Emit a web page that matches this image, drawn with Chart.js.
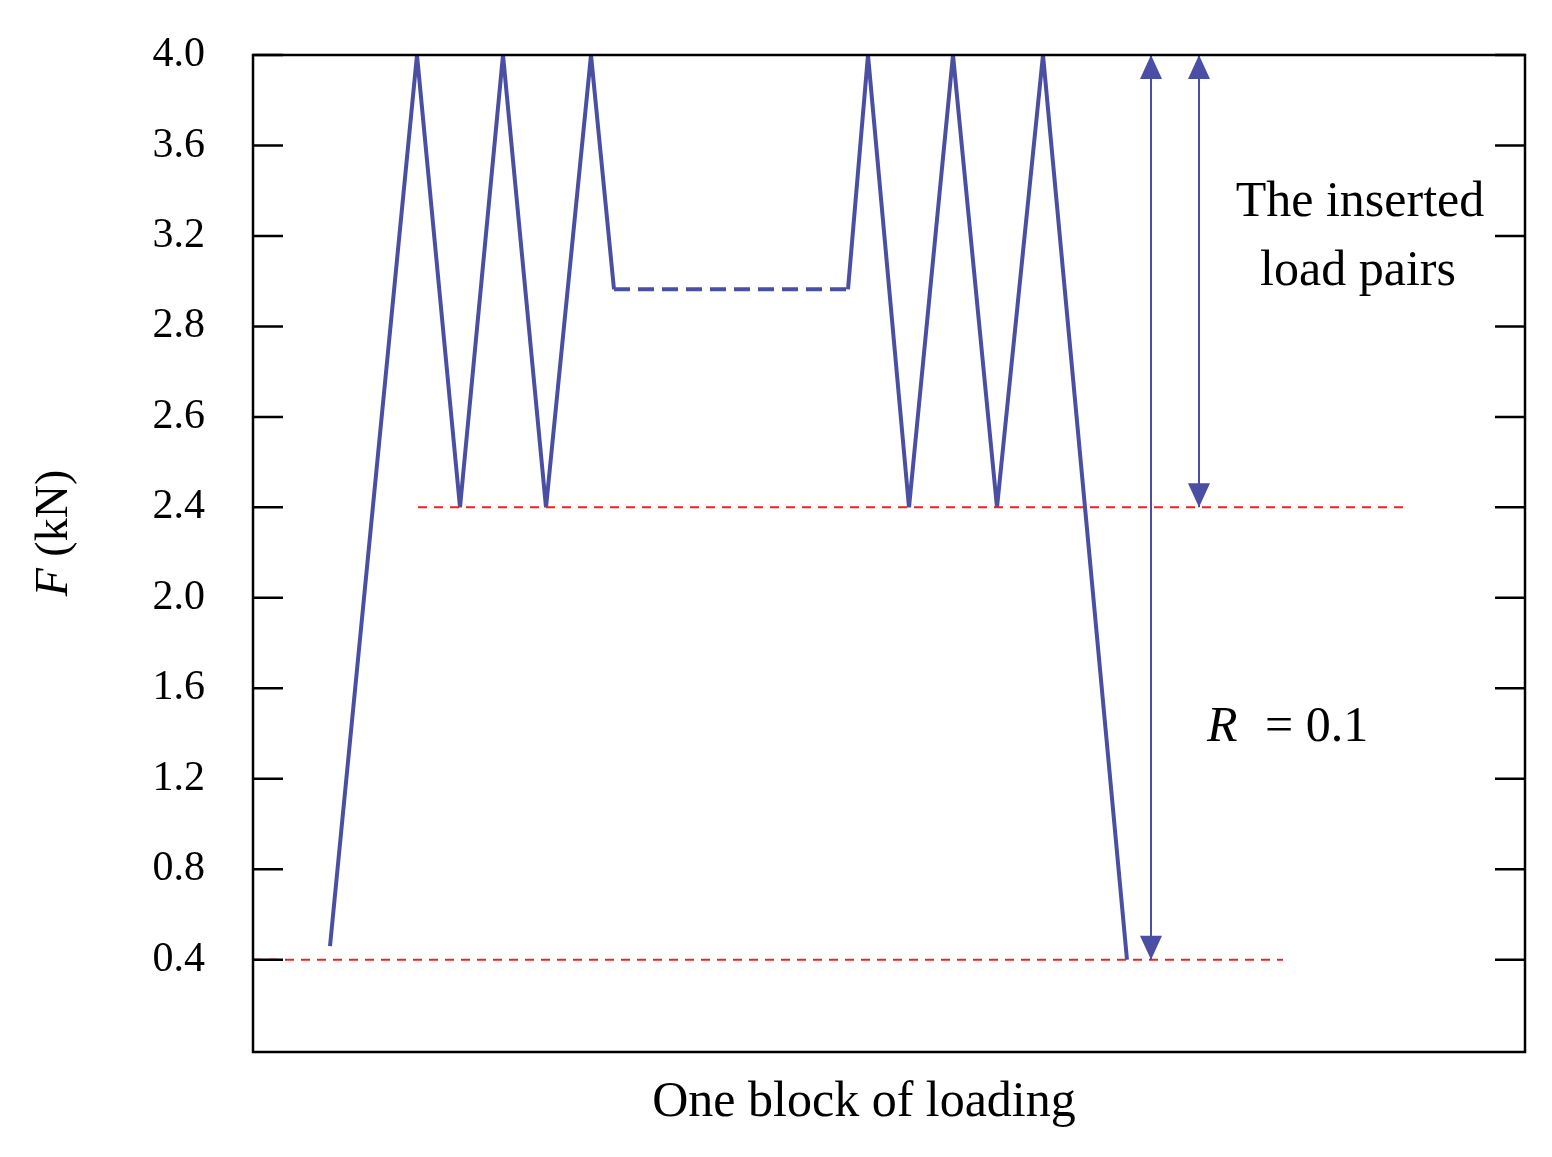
<!DOCTYPE html>
<html><head><meta charset="utf-8">
<script src="https://cdn.jsdelivr.net/npm/chart.js@4"></script>
<style>html,body{margin:0;padding:0;background:#fff}#w{width:1552px;height:1157px}</style>
</head><body><div id="w"><canvas id="c"></canvas></div>
<script>
// Tick labels (equally spaced on the original axis, non-linear values)
const tickLabels = ['0.4','0.8','1.2','1.6','2.0','2.4','2.6','2.8','3.2','3.6','4.0'];
// Load path: x positions (block progress units) and y values as tick-index positions
const loadX = [330,417,460,503,546,591,614];
const loadY = [0.15,10,5,10,5,10,7.41];
const dashX = [614,848];
const dashY = [7.41,7.41];
const load2X = [848,868,909,953,997,1043,1127];
const load2Y = [7.41,10,5,10,5,10,0];
const refMaxX = [418,1408], refMaxY = [5,5];
const refMinX = [253,1283], refMinY = [0,0];
const arrowA = {x:1151, y0:10, y1:0};
const arrowB = {x:1199, y0:10, y1:5};

const blue = '#4b4fa3', red = '#ee2222';
const pts = (xs, ys) => xs.map((x,i)=>({x, y: ys[i]}));
const ds = (data, color, width, dash) => ({data, borderColor: color, borderWidth: width, borderDash: dash||[], pointRadius:0, fill:false, tension:0});

const deco = {
  id:'deco',
  afterDatasetsDraw(ch){
    const {ctx, chartArea:a, scales:{x, y}} = ch;
    ctx.save();
    ctx.fillStyle = blue; ctx.strokeStyle = blue; ctx.lineWidth = 2;
    for (const ar of [arrowA, arrowB]) {
      const px = x.getPixelForValue(ar.x), p0 = y.getPixelForValue(ar.y0), p1 = y.getPixelForValue(ar.y1);
      ctx.beginPath(); ctx.moveTo(px,p0); ctx.lineTo(px,p1); ctx.stroke();
      ctx.beginPath(); ctx.moveTo(px,p0); ctx.lineTo(px-11,p0+24); ctx.lineTo(px+11,p0+24); ctx.closePath(); ctx.fill();
      ctx.beginPath(); ctx.moveTo(px,p1); ctx.lineTo(px-11,p1-24); ctx.lineTo(px+11,p1-24); ctx.closePath(); ctx.fill();
    }
    // frame
    ctx.strokeStyle = '#000'; ctx.lineWidth = 2.5;
    ctx.strokeRect(a.left, a.top, a.right-a.left, a.bottom-a.top);
    ctx.fillStyle = '#000';
    ctx.font = '42px "Liberation Serif"';
    ctx.textAlign = 'right'; ctx.textBaseline = 'middle';
    tickLabels.forEach((t,i)=>{
      const py = y.getPixelForValue(i);
      ctx.beginPath(); ctx.moveTo(a.left,py); ctx.lineTo(a.left+30,py); ctx.moveTo(a.right,py); ctx.lineTo(a.right-30,py); ctx.stroke();
      ctx.fillText(t, a.left-48, py);
    });
    ctx.textAlign='center';
    ctx.font = '50px "Liberation Serif"';
    ctx.fillText('One block of loading', (a.left+a.right)/2 - 25, 1103);
    ctx.fillText('The inserted', 1360, 203);
    ctx.fillText('load pairs', 1358, 272);
    ctx.textAlign='left';
    ctx.font = 'italic 50px "Liberation Serif"';
    ctx.fillText('R', 1207, 728);
    ctx.font = '50px "Liberation Serif"';
    ctx.fillText('= 0.1', 1265, 728);
    // y title
    ctx.save(); ctx.translate(55, 533); ctx.rotate(-Math.PI/2);
    ctx.textAlign='center';
    ctx.font = 'italic 46px "Liberation Serif"';
    const w1 = ctx.measureText('F ').width;
    ctx.font = '46px "Liberation Serif"';
    const w2 = ctx.measureText('(kN)').width;
    const sx = -(w1+w2)/2;
    ctx.textAlign='left';
    ctx.font = 'italic 46px "Liberation Serif"'; ctx.fillText('F', sx, 0);
    ctx.font = '46px "Liberation Serif"'; ctx.fillText('(kN)', sx+w1, 0);
    ctx.restore();
    ctx.restore();
  }
};

new Chart(document.getElementById('c'), {
  type:'line',
  data:{datasets:[
    ds(pts(refMaxX, refMaxY), red, 2, [9,7]),
    ds(pts(refMinX, refMinY), red, 2, [9,7]),
    ds(pts(loadX, loadY), blue, 4),
    ds(pts(dashX, dashY), blue, 4, [16,8]),
    ds(pts(load2X, load2Y), blue, 4)
  ]},
  options:{
    responsive:true, maintainAspectRatio:false, animation:false,
    layout:{padding:{left:253, top:55, right:27, bottom:105}},
    plugins:{legend:{display:false}, tooltip:{enabled:false}},
    scales:{
      x:{type:'linear', min:253, max:1525, display:false},
      y:{type:'linear', min:-1.02, max:10, display:false}
    }
  },
  plugins:[deco]
});
</script></body></html>
